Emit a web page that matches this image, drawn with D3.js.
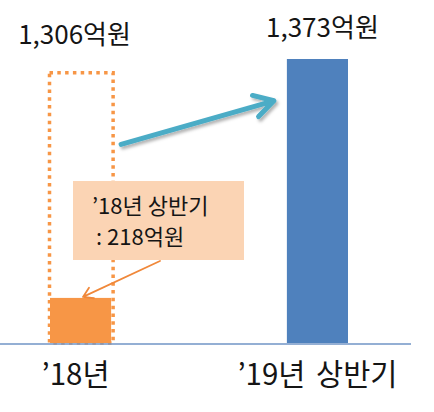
<!DOCTYPE html>
<html>
<head>
<meta charset="utf-8">
<script src="https://cdn.jsdelivr.net/npm/d3@7/dist/d3.min.js"></script>
<style>
  html, body { margin: 0; padding: 0; background: #fff; }
  svg { display: block; }
  text { font-family: "Noto Sans CJK KR", "Noto Sans", sans-serif; fill: #151515; }
</style>
</head>
<body>
<svg id="chart" width="434" height="412"></svg>
<script>
// ---- data ----
const categories = ["’18년", "’19년 상반기"];
const values = [218, 1373];          // bar values (억원)
const totalPrev = 1306;              // '18 full-year total (dotted ghost bar)
const valueLabels = ["1,306억원", "1,373억원"];
const calloutLines = ["’18년 상반기", ": 218억원"];

// ---- layout ----
const W = 434, H = 412;
const baseY = 343, topY = 59;
const svg = d3.select("#chart");

const x = d3.scaleBand().domain(categories).range([50, 348]).paddingInner(0.742).paddingOuter(0);
const y = d3.scaleLinear().domain([0, d3.max(values)]).range([baseY, topY]);
const bw = x.bandwidth();
const colors = ["#F79646", "#4F81BD"];

const defs = svg.append("defs");
const f = defs.append("filter").attr("id", "shadow").attr("x", "-20%").attr("y", "-50%").attr("width", "140%").attr("height", "200%");
f.append("feDropShadow").attr("dx", 2).attr("dy", 2.5).attr("stdDeviation", 1.6).attr("flood-color", "#000").attr("flood-opacity", 0.3);

// dotted ghost bar for '18 total
const x0 = x(categories[0]);
svg.append("rect")
  .attr("x", x0 - 0.5).attr("y", y(totalPrev))
  .attr("width", bw + 2.5).attr("height", baseY - y(totalPrev))
  .attr("fill", "none").attr("stroke", colors[0]).attr("stroke-width", 3.5)
  .attr("stroke-dasharray", "3.5 4.3");

// bars
svg.selectAll("rect.bar").data(values).enter().append("rect")
  .attr("class", "bar")
  .attr("x", (d, i) => x(categories[i]))
  .attr("y", d => y(d))
  .attr("width", bw)
  .attr("height", d => baseY - y(d))
  .attr("fill", (d, i) => colors[i]);

// baseline
const gAxis = svg.append("g").attr("transform", `translate(0,${baseY + 1})`);
gAxis.append("line").attr("x1", 0).attr("x2", 411).attr("stroke", "#7094C6").attr("stroke-width", 1.6);

// category labels
svg.selectAll("text.cat").data(categories).enter().append("text")
  .attr("class", "cat")
  .attr("x", d => x(d) + bw / 2 - (d === categories[0] ? 5 : 0))
  .attr("y", 385)
  .attr("text-anchor", "middle")
  .attr("font-size", 29.5)
  .attr("word-spacing", 4)
  .text(d => d);

// value labels
svg.append("text")
  .attr("x", x0 + bw / 2 - 6).attr("y", y(totalPrev) - 29)
  .attr("text-anchor", "middle").attr("font-size", 26)
  .text(valueLabels[0]);
const x1 = x(categories[1]);
svg.append("text")
  .attr("x", x1 + bw / 2 + 5).attr("y", y(values[1]) - 22)
  .attr("text-anchor", "middle").attr("font-size", 26)
  .text(valueLabels[1]);

// teal arrow from ghost bar to '19 bar
const ax1 = x0 + bw + 10, ay1 = y(960);
const ax2 = x1 - 13, ay2 = y(1171);
const ang = Math.atan2(ay1 - ay2, ax1 - ax2);
const armL = 22, spread = 30 * Math.PI / 180;
const p1 = [ax2 + armL * Math.cos(ang - spread), ay2 + armL * Math.sin(ang - spread)];
const p2 = [ax2 + armL * Math.cos(ang + spread), ay2 + armL * Math.sin(ang + spread)];
svg.append("path")
  .attr("d", `M${ax1},${ay1}L${ax2},${ay2}M${p1[0]},${p1[1]}L${ax2},${ay2}L${p2[0]},${p2[1]}`)
  .attr("fill", "none").attr("stroke", "#4BACC6").attr("stroke-width", 5)
  .attr("stroke-linecap", "round").attr("stroke-linejoin", "round")
  .attr("filter", "url(#shadow)");

// callout box
const bx = x0 + 23, by = 181, bW = 171, bH = 79;
svg.append("rect").attr("x", bx).attr("y", by).attr("width", bW).attr("height", bH).attr("fill", "#FBD4B4");
svg.selectAll("text.call").data(calloutLines).enter().append("text")
  .attr("class", "call")
  .attr("x", (d, i) => bx + 19 + (i ? 4 : 0))
  .attr("y", (d, i) => by + 33 + i * 31)
  .attr("font-size", 22)
  .text(d => d);

// callout pointer
const cx1 = bx + 87, cy1 = by + bH + 1;
const cx2 = x0 + 33, cy2 = y(values[0]) - 1;
const ca = Math.atan2(cy1 - cy2, cx1 - cx2);
const cl = 11, cs = 32 * Math.PI / 180;
svg.append("path")
  .attr("d", `M${cx1},${cy1}L${cx2},${cy2}M${cx2 + cl * Math.cos(ca - cs)},${cy2 + cl * Math.sin(ca - cs)}L${cx2},${cy2}L${cx2 + cl * Math.cos(ca + cs)},${cy2 + cl * Math.sin(ca + cs)}`)
  .attr("fill", "none").attr("stroke", "#F0883A").attr("stroke-width", 1.8)
  .attr("stroke-linecap", "round").attr("stroke-linejoin", "round");
</script>
</body>
</html>
